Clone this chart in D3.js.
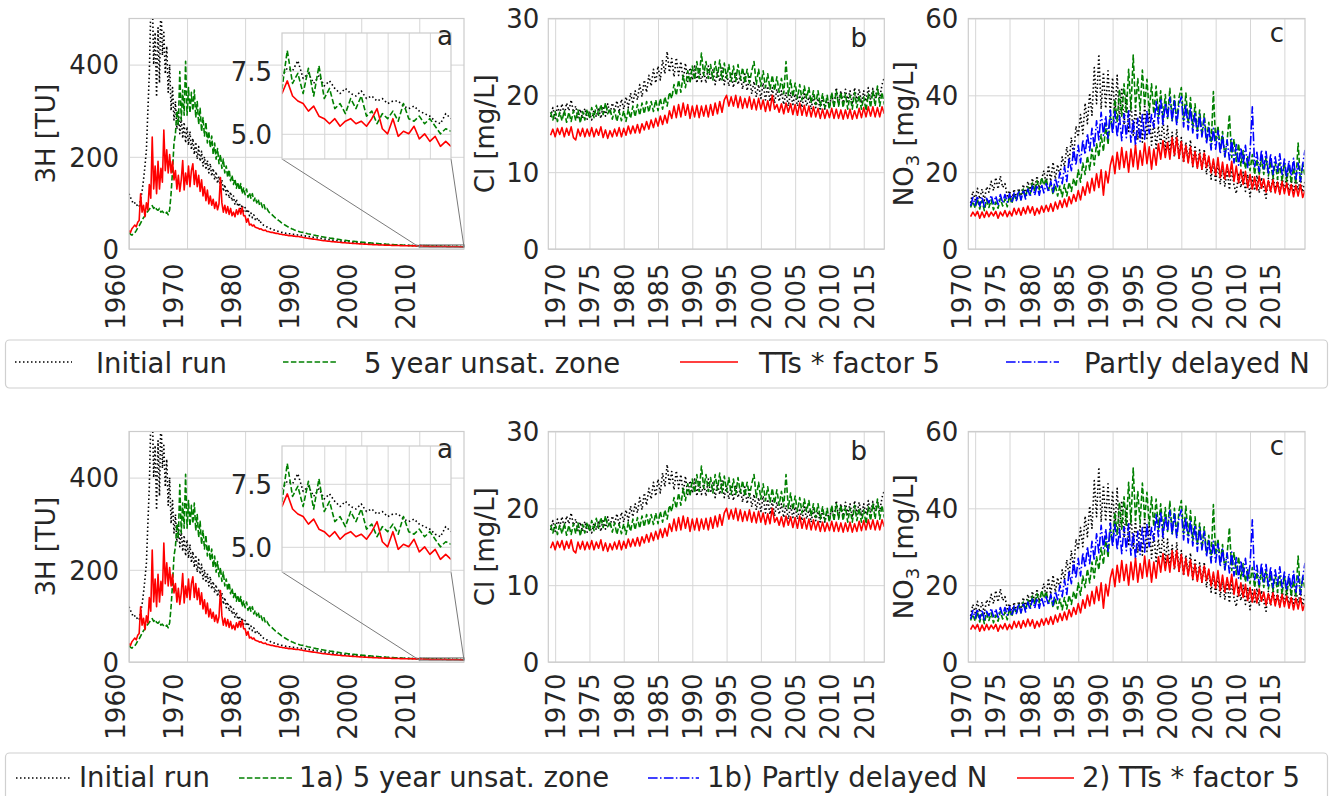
<!DOCTYPE html>
<meta charset="utf-8">
<head>
  <title>Tritium, chloride and nitrate scenarios</title>
</head>

<style>
body {
  margin: 0;
  background: white;
}
text {
  font-family: "DejaVu Sans", sans-serif;
  fill: #262626;
}
</style>

<body>
<script src="https://cdnjs.cloudflare.com/ajax/libs/d3/7.8.5/d3.min.js"></script>
<script>
// ---- data ----
// tritium (TU), quarterly from 1960.0
var tritiumStart = 1960, tritiumStep = 0.25
var tritiumInitial = [
  120, 112, 105, 98,
  100, 94, 96, 92,
  108, 125, 150, 180,
  215, 300, 380, 520,
  560, 400, 470, 330,
  480, 360, 540, 420,
  470, 380, 440, 340,
  400, 300, 350, 280,
  320, 260, 300, 250,
  285, 240, 275, 230,
  265, 225, 255, 215,
  240, 205, 232, 195,
  222, 190, 212, 180,
  200, 172, 192, 165,
  185, 158, 175, 150,
  168, 142, 158, 135,
  150, 125, 140, 118,
  130, 110, 124, 104,
  115, 96, 108, 92,
  100, 86, 96, 82,
  90, 78, 86, 72,
  78, 68, 74, 64,
  68, 60, 64, 56,
  53, 51, 49, 48,
  46, 45, 43, 42,
  41, 40, 39, 38,
  37, 36, 36, 35,
  34, 34, 33, 33,
  32, 32, 31, 31,
  30.5, 30, 30, 29.5,
  29, 28.5, 28, 27.5,
  27, 26.5, 26, 25.5,
  25, 24.5, 24, 23.5,
  23, 22.5, 22, 21.5,
  21, 20.5, 20, 19.6,
  19.2, 18.8, 18.4, 18,
  17.7, 17.4, 17.1, 16.8,
  16.5, 16.2, 15.9, 15.6,
  15.3, 15, 14.8, 14.5,
  14.3, 14, 13.8, 13.5,
  13.3, 13, 12.8, 12.5,
  12.3, 12, 11.8, 11.6,
  11.4, 11.2, 11, 10.8,
  10.6, 10.4, 10.2, 10,
  9.8, 9.7, 9.5, 9.3,
  9.2, 9, 8.9, 8.8,
  8.7, 8.6, 8.5, 8.4,
  8.3, 8.2, 8.1, 8,
  7.9, 7.8, 7.8, 7.7,
  7.6, 7.5, 7.5, 7.4,
  7.3, 7.6, 7.5, 7.9,
  7.2, 7.4, 7.0, 7.3,
  6.9, 7.1, 6.8, 6.6,
  6.8, 6.6, 6.5, 6.7,
  6.4, 6.5, 6.3, 6.4,
  6.2, 6.3, 6.3, 6.1,
  6.0, 6.1, 5.9, 5.8,
  5.7, 5.5, 5.4, 5.8,
  5.6
]
var tritiumUnsat = [
  36, 32, 30, 33,
  35, 40, 46, 50,
  56, 62, 68, 72,
  78, 82, 86, 90,
  94, 88, 92, 86,
  84, 88, 80, 82,
  78, 76, 80, 74,
  85, 120, 170, 230,
  250, 300, 270, 385,
  280, 345, 290, 407,
  290, 350, 295, 340,
  300, 345, 285, 320,
  270, 305, 255, 285,
  245, 275, 230, 255,
  220, 245, 205, 230,
  195, 218, 185, 205,
  175, 195, 165, 180,
  155, 172, 148, 160,
  140, 152, 132, 145,
  128, 142, 120, 132,
  118, 130, 112, 122,
  110, 120, 104, 112,
  100, 108, 95, 100,
  90, 96, 85, 88,
  82, 78, 76, 73,
  70, 67, 65, 62,
  60, 57, 55, 53,
  51, 49, 47, 46,
  44, 43, 41, 40,
  39, 38, 37, 36.5,
  36, 35, 34, 33,
  32.5, 32, 31, 30.5,
  30, 29, 28.5, 28,
  27, 26.5, 26, 25.5,
  25, 24.5, 24, 23.5,
  23, 22.5, 22, 21.5,
  21, 20.5, 20, 19.6,
  19.2, 18.8, 18.4, 18,
  17.6, 17.2, 16.9, 16.6,
  16.3, 16, 15.7, 15.4,
  15.1, 14.8, 14.5, 14.2,
  13.9, 13.6, 13.3, 13,
  12.8, 12.5, 12.2, 12,
  11.7, 11.5, 11.2, 11,
  10.8, 10.5, 10.3, 10.1,
  9.9, 9.7, 9.5, 9.3,
  9.1, 8.9, 8.8, 8.6,
  8.4, 8.3, 8.1, 8,
  7.8, 7.7, 7.6, 7.4,
  7.3, 7.2, 7.1, 7.0,
  6.8, 8.3, 7.0, 7.4,
  6.6, 7.6, 6.5, 7.7,
  6.4, 6.8, 6.0, 6.2,
  5.8, 6.4, 6.0, 6.5,
  5.7, 5.9, 5.4, 5.8,
  5.6, 5.9, 5.5, 6.2,
  5.6, 5.5, 5.7, 5.4,
  5.6, 5.3, 5.0, 5.2,
  5.1
]
var tritiumTT = [
  40, 36, 44, 48,
  52, 48, 58, 62,
  120, 80, 95, 70,
  100, 85, 140, 110,
  243, 130, 180, 120,
  190, 130, 175, 145,
  258, 170, 215, 165,
  205, 165, 190, 150,
  170, 130, 160, 125,
  150, 192, 128, 165,
  140, 180, 135, 170,
  185, 140, 170, 135,
  160, 125, 150, 115,
  135, 105, 128, 98,
  115, 95, 108, 88,
  102, 85, 98, 155,
  100, 80, 95, 78,
  92, 75, 88, 72,
  80, 70, 85, 75,
  88, 76, 90, 72,
  72, 58, 66, 52,
  54, 50, 52, 47,
  46, 45, 43, 44,
  41, 40, 41, 38,
  38, 37, 36, 36,
  35, 34, 34, 33,
  32, 32, 31, 31,
  30, 30, 29, 29,
  29, 28, 28, 27,
  27, 27, 26, 26,
  25, 24.5, 24, 23.5,
  23, 22.5, 22, 21.5,
  21, 20.5, 20, 19.5,
  19, 18.6, 18.2, 17.8,
  17.4, 17, 16.7, 16.4,
  16, 15.7, 15.4, 15.1,
  14.8, 14.5, 14.2, 13.9,
  13.6, 13.4, 13.1, 12.9,
  12.6, 12.4, 12.2, 12,
  11.8, 11.6, 11.4, 11.2,
  11, 10.8, 10.6, 10.4,
  10.2, 10, 9.9, 9.7,
  9.5, 9.4, 9.2, 9.1,
  8.9, 8.8, 8.7, 8.6,
  8.4, 8.3, 8.2, 8.1,
  8, 7.9, 7.8, 7.7,
  7.6, 7.5, 7.5, 7.4,
  7.3, 7.2, 7.2, 7.1,
  7.0, 7.0, 6.9, 6.9,
  6.8, 6.8, 6.7, 6.7,
  6.6, 7.1, 6.5, 6.3,
  6.2, 5.9, 6.1, 5.7,
  5.6, 5.4, 5.6, 5.3,
  5.5, 5.6, 5.4, 5.5,
  5.3, 5.6, 6.0, 5.2,
  5.0, 5.6, 4.9, 5.1,
  5.0, 5.3, 4.8, 5.0,
  4.7, 4.9, 4.5, 4.7,
  4.5
]

// chloride and nitrate (mg/L), every 4 months from 1969 1/3
var concStart = 1969 + 1 / 3, concStep = 1 / 3
var chlorideInitial = [
  17.2, 18.4,
  17.0, 18.6, 17.6,
  18.9, 17.4, 19.0,
  18.0, 19.4, 17.8,
  18.6, 17.1, 18.2,
  17.0, 18.3, 16.9,
  17.8, 16.8, 18.1,
  17.2, 18.4, 17.0,
  18.6, 17.3, 18.9,
  17.6, 19.0, 17.9,
  19.3, 17.8, 19.5,
  18.2, 19.8, 18.4,
  20.3, 18.9, 20.6,
  19.4, 21.4, 19.8,
  22.0, 20.4, 22.6,
  21.2, 23.4, 21.6,
  23.8, 22.0, 24.6,
  22.8, 25.7, 23.0,
  24.8, 22.4, 24.9,
  22.6, 24.4, 22.0,
  24.2, 21.8, 23.6,
  22.0, 23.8, 21.6,
  23.6, 21.8, 23.2,
  21.6, 23.8, 22.0,
  23.4, 21.4, 23.2,
  21.8, 23.6, 21.4,
  23.0, 21.2, 22.8,
  21.0, 23.0, 21.4,
  22.6, 20.8, 22.8,
  20.6, 22.4, 20.2,
  21.8, 19.8, 21.4,
  19.6, 21.6, 19.4,
  21.2, 19.2, 21.0,
  19.0, 20.8, 19.2,
  20.6, 18.8, 20.4,
  18.6, 20.4, 18.8,
  20.2, 18.6, 20.0,
  18.4, 20.2, 18.6,
  19.8, 18.2, 19.9,
  18.4, 19.6, 18.0,
  19.8, 18.2, 19.6,
  18.4, 20.2, 18.6,
  21.0, 18.8, 20.6,
  19.0, 20.8, 19.2,
  20.6, 18.8, 21.0,
  19.2, 20.8, 19.0,
  20.6, 19.2, 21.0,
  19.4, 20.9, 19.6,
  21.0, 19.6, 21.4,
  22.3
]
var chlorideUnsat = [
  17.8, 16.8,
  17.9, 16.6, 17.8,
  16.7, 18.0, 16.5,
  17.8, 16.6, 18.0,
  16.7, 18.1, 16.4,
  17.9, 16.8, 18.2,
  17.0, 18.4, 17.1,
  18.7, 17.4, 18.8,
  17.5, 19.0, 17.6,
  18.3, 16.9, 18.1,
  16.6, 17.9, 16.7,
  18.0, 16.6, 18.2,
  17.0, 18.6, 17.2,
  18.8, 17.4, 19.0,
  17.6, 19.2, 17.8,
  19.2, 17.9, 19.4,
  18.0, 19.6, 18.2,
  19.8, 18.6, 20.4,
  19.6, 21.4, 20.0,
  22.0, 20.4, 22.6,
  21.0, 23.2, 21.6,
  23.8, 22.0, 24.4,
  22.2, 25.5, 22.6,
  24.4, 22.2, 24.0,
  22.0, 24.4, 22.4,
  24.6, 22.0, 24.2,
  22.2, 24.0, 21.8,
  23.8, 21.8, 24.0,
  22.0, 23.6, 21.6,
  23.4, 21.6, 23.2,
  24.4, 21.4, 23.4,
  21.2, 23.2, 21.0,
  22.8, 20.8, 22.6,
  20.6, 22.4, 20.4,
  22.2, 20.2, 24.4,
  20.0, 22.0, 19.8,
  21.6, 19.6, 21.4,
  19.4, 21.2, 19.6,
  21.0, 19.0, 20.6,
  18.8, 20.6, 18.6,
  20.2, 18.4, 20.0,
  18.2, 20.4, 18.4,
  20.6, 18.6, 20.4,
  18.4, 20.2, 18.2,
  20.0, 18.2, 20.4,
  18.4, 20.0, 18.2,
  19.8, 18.0, 20.2,
  18.4, 20.6, 18.6,
  21.2, 18.6, 20.4,
  18.8
]
var chlorideTT = [
  14.8, 15.6,
  14.6, 15.7, 14.9,
  15.8, 14.6, 15.7,
  14.8, 15.9, 14.5,
  14.2, 15.6, 14.7,
  15.7, 14.6, 15.6,
  14.7, 15.8, 14.6,
  15.6, 14.8, 15.9,
  14.5, 15.5, 14.4,
  15.4, 14.6, 15.6,
  14.7, 15.8, 14.6,
  15.7, 14.8, 16.0,
  15.0, 16.0, 15.1,
  16.2, 15.1, 16.3,
  15.5, 16.6, 15.6,
  16.8, 15.8, 17.0,
  16.0, 17.3, 16.2,
  17.4, 16.4, 18.0,
  17.0, 18.6, 17.1,
  18.8, 17.2, 19.0,
  17.4, 18.8, 17.0,
  18.6, 17.2, 18.7,
  17.1, 18.6, 17.3,
  18.7, 17.2, 18.8,
  17.4, 19.0, 17.6,
  19.2, 17.8, 19.4,
  20.0, 18.6, 19.8,
  18.6, 20.0, 18.4,
  19.8, 18.3, 19.6,
  18.4, 19.8, 18.2,
  19.5, 18.1, 19.6,
  18.2, 19.4, 17.9,
  19.3, 18.0, 20.0,
  18.2, 18.8, 17.8,
  18.9, 17.6, 19.0,
  17.8, 18.9, 17.5,
  18.8, 17.4, 19.0,
  17.4, 18.7, 17.3,
  18.6, 17.2, 18.5,
  17.2, 18.3, 17.0,
  18.2, 17.0, 18.1,
  17.1, 18.3, 17.0,
  18.2, 17.0, 18.1,
  16.9, 18.1, 17.0,
  18.2, 16.9, 18.0,
  17.0, 18.3, 17.1,
  18.4, 17.2, 18.5,
  17.3, 18.5, 17.2,
  18.4, 17.2, 18.5,
  17.6
]
var nitrateInitial = [
  12.0, 15.0,
  12.8, 15.8, 13.0,
  15.6, 12.6, 16.2,
  14.8, 17.6, 15.2,
  18.6, 15.6, 19.0,
  16.0, 17.0, 13.8,
  15.2, 12.8, 15.6,
  13.2, 15.8, 13.8,
  16.8, 14.2, 17.6,
  15.4, 18.4, 15.6,
  19.0, 15.8, 18.2,
  20.4, 16.8, 21.8,
  17.6, 22.6, 18.2,
  22.0, 19.0, 24.0,
  21.4, 26.6, 22.4,
  29.0, 24.0, 32.0,
  29.2, 35.0, 30.0,
  38.0, 32.6, 40.6,
  34.8, 47.2, 37.8,
  50.7, 36.4, 46.0,
  36.6, 46.4, 35.4,
  44.6, 34.8, 45.2,
  33.4, 42.0, 32.4,
  40.4, 30.6, 38.4,
  29.6, 37.0, 28.4,
  35.8, 27.8, 37.6,
  28.8, 36.2, 27.0,
  33.4, 26.2, 32.0,
  27.0, 34.0, 25.8,
  32.0, 25.0, 30.4,
  24.0, 31.2, 23.4,
  29.0, 22.4, 27.8,
  22.6, 28.4, 21.4,
  27.0, 21.4, 25.8,
  20.6, 26.0, 19.4,
  24.0, 18.2, 22.8,
  17.4, 22.4, 16.8,
  21.4, 16.2, 20.6,
  15.4, 21.0, 16.6,
  14.4, 19.8, 16.0,
  20.0, 15.0, 19.4,
  13.6, 18.8, 15.2,
  19.2, 14.6, 18.6,
  15.6, 13.2, 18.4,
  14.6, 19.2, 15.2,
  18.2, 14.4, 18.8,
  15.0, 19.2, 14.6,
  18.0, 14.8, 18.8,
  15.4, 18.6, 14.8,
  17.6
]
var nitrateUnsat = [
  10.8, 12.4,
  10.6, 13.0, 10.4,
  12.6, 10.0, 12.8,
  10.8, 12.8, 10.2,
  12.2, 10.6, 13.2,
  11.2, 13.0, 11.0,
  13.8, 11.8, 14.2,
  12.6, 15.0, 12.8,
  15.6, 13.4, 16.2,
  14.2, 17.2, 15.0,
  17.8, 15.4, 18.6,
  16.6, 18.4, 15.4,
  17.2, 14.2, 16.6,
  13.8, 16.4, 13.6,
  16.8, 13.8, 17.4,
  15.0, 18.4, 16.2,
  20.6, 17.4, 22.4,
  19.4, 24.2, 20.6,
  26.0, 21.8, 27.4,
  24.0, 29.8, 25.4,
  32.6, 27.2, 34.4,
  31.2, 39.0, 33.2,
  41.6, 34.6, 43.0,
  35.4, 46.8, 36.2,
  50.5, 36.8, 44.4,
  36.0, 46.6, 37.2,
  44.2, 35.6, 43.0,
  35.2, 42.4, 34.6,
  41.2, 33.8, 40.2,
  34.0, 41.8, 33.4,
  40.0, 32.8, 39.4,
  42.0, 33.4, 40.6,
  32.6, 39.4, 31.6,
  37.8, 30.4, 36.2,
  29.6, 35.2, 28.2,
  33.0, 26.6, 41.0,
  27.8, 32.0, 25.8,
  30.6, 24.0, 28.2,
  35.0, 23.8, 28.6,
  22.8, 27.4, 21.6,
  25.6, 20.8, 24.0,
  20.4, 24.6, 19.4,
  23.4, 19.2, 23.8,
  19.4, 24.0, 19.0,
  22.8, 18.4, 22.6,
  18.2, 22.4, 17.6,
  22.4, 17.4, 21.8,
  17.2, 21.2, 17.0,
  27.6, 17.6, 22.2,
  19.0
]
var nitrateDelayed = [
  11.2, 13.4,
  11.4, 13.8, 11.2,
  13.6, 11.0, 13.2,
  12.0, 14.0, 11.8,
  13.8, 11.6, 14.2,
  12.0, 14.2, 12.2,
  14.4, 12.0, 14.6,
  12.6, 15.2, 12.8,
  15.4, 13.0, 15.6,
  13.6, 16.4, 14.0,
  16.6, 14.0, 16.8,
  14.6, 17.0, 14.8,
  17.6, 14.8, 18.4,
  16.2, 20.0, 17.0,
  21.4, 17.6, 23.6,
  20.4, 26.2, 21.8,
  27.0, 22.4, 28.4,
  24.6, 30.0, 25.6,
  31.4, 26.4, 33.4,
  28.4, 35.6, 29.6,
  34.6, 28.8, 36.2,
  30.0, 35.8, 29.2,
  34.6, 28.2, 35.2,
  29.0, 36.0, 27.8,
  33.8, 26.8, 34.0,
  28.0, 35.0, 28.6,
  36.0, 30.0, 35.0,
  31.6, 38.4, 32.6,
  39.0, 32.4, 38.0,
  34.0, 39.4, 33.2,
  38.6, 32.2, 37.6,
  39.6, 31.8, 37.6,
  31.0, 36.8, 30.2,
  35.6, 28.8, 35.0,
  29.2, 34.0, 27.4,
  31.6, 25.8, 31.4,
  26.0, 30.8, 24.8,
  29.4, 24.0, 28.4,
  23.2, 28.6, 22.4,
  27.2, 21.8, 26.4,
  22.0, 27.0, 21.2,
  25.2, 37.0, 21.4,
  25.2, 20.2, 25.8,
  20.6, 25.4, 19.8,
  24.8, 19.4, 24.0,
  20.2, 24.8, 19.4,
  23.4, 18.6, 23.0,
  19.0, 23.6, 18.2,
  22.4, 17.6, 22.0,
  25.8
]
var nitrateTT = [
  8.4, 9.6,
  8.6, 9.8, 8.0,
  9.6, 8.2, 9.8,
  8.4, 9.6, 8.6,
  9.8, 8.0, 9.6,
  8.6, 10.0, 8.4,
  9.8, 8.6, 10.6,
  9.0, 10.6, 8.8,
  10.8, 9.2, 11.2,
  9.4, 11.0, 8.8,
  10.6, 9.2, 11.2,
  9.6, 11.4, 9.8,
  11.8, 9.8, 12.2,
  10.4, 12.6, 10.8,
  13.0, 11.0, 13.6,
  11.8, 14.2, 12.4,
  15.2, 12.8, 16.2,
  14.0, 17.4, 14.6,
  18.4, 15.2, 19.6,
  16.0, 20.6, 14.0,
  20.2, 17.2, 21.8,
  24.2, 19.6, 25.2,
  20.8, 26.4, 21.2,
  25.4, 20.0, 26.0,
  21.4, 27.0, 20.8,
  25.6, 21.8, 27.6,
  22.2, 26.6, 20.8,
  26.0, 21.8, 27.4,
  23.4, 28.2, 23.8,
  27.8, 23.4, 29.0,
  24.4, 29.0, 23.6,
  28.0, 22.8, 27.0,
  22.4, 26.6, 21.6,
  25.4, 21.0, 24.8,
  20.8, 25.0, 21.2,
  24.2, 19.8, 23.4,
  19.2, 23.8, 18.6,
  22.6, 18.2, 22.0,
  18.8, 22.8, 17.6,
  21.6, 17.2, 20.6,
  16.8, 20.2, 16.0,
  19.4, 15.6, 18.8,
  15.4, 19.0, 15.8,
  18.2, 14.8, 17.8,
  15.0, 18.0, 14.6,
  17.4, 14.2, 17.6,
  14.4, 17.2, 14.0,
  16.8, 13.6, 16.6,
  13.8, 16.8, 13.4,
  15.2
]

// axis ticks and legend labels
var tritiumYearTicks = [1960, 1970, 1980, 1990, 2000, 2010]
var concYearTicks = [1970, 1975, 1980, 1985, 1990, 1995, 2000, 2005, 2010, 2015]
var insetYearGrid = [2011, 2012, 2013, 2014, 2015, 2016, 2017]
var tritiumTicks = [0, 200, 400]
var insetTicks = [5.0, 7.5]
var chlorideTicks = [0, 10, 20, 30]
var nitrateTicks = [0, 20, 40, 60]
var topLegendLabels = ["Initial run", "5 year unsat. zone", "TTs * factor 5", "Partly delayed N"]
var bottomLegendLabels = ["Initial run", "1a) 5 year unsat. zone", "1b) Partly delayed N", "2) TTs * factor 5"]

// ---- styles ----
var styles = {
  initial: {color: "#000000", dash: "1.5,2.5"},
  unsat: {color: "#008000", dash: "5.5,2.4"},
  delayed: {color: "#0000ff", dash: "9.6,2.4,1.5,2.4"},
  tt: {color: "#ff0000", dash: null}
}
var gridColor = "#d6d6d6"
var frameColor = "#cccccc"
var lineWidth = 1.6
var fontSize = 26

var svg = d3.select("body").append("svg")
  .attr("width", 1333)
  .attr("height", 796)
var defs = svg.append("defs")
var clipCount = 0

function toPoints(values, start, step) {
  return values.map(function(v, i) { return [start + i * step, v] })
}

function addClip(box) {
  var id = "clip" + (clipCount++)
  defs.append("clipPath").attr("id", id)
    .append("rect")
    .attr("x", box.left).attr("y", box.top)
    .attr("width", box.right - box.left).attr("height", box.bottom - box.top)
  return "url(#" + id + ")"
}

// grid, ticks, lines and frame for one axes box
function drawAxes(g, box, xDomain, yDomain, xTicks, yTicks, yFormat, lines, opts) {
  var x = d3.scaleLinear().domain(xDomain).range([box.left, box.right])
  var y = d3.scaleLinear().domain(yDomain).range([box.bottom, box.top])

  if (opts.background) {
    g.append("rect")
      .attr("x", box.left).attr("y", box.top)
      .attr("width", box.right - box.left).attr("height", box.bottom - box.top)
      .attr("fill", "white")
  }

  var gx = g.append("g")
    .attr("transform", "translate(0," + box.bottom + ")")
    .call(d3.axisBottom(x).tickValues(xTicks).tickSize(-(box.bottom - box.top)).tickFormat(d3.format("d")))
  gx.select(".domain").remove()
  gx.selectAll("line").attr("stroke", gridColor).attr("stroke-width", 1)
  if (opts.xLabels) {
    gx.selectAll("text")
      .attr("font-size", fontSize)
      .attr("font-family", "DejaVu Sans")
      .attr("fill", "#262626")
      .attr("text-anchor", "end")
      .attr("x", -opts.xLabelGap)
      .attr("y", opts.xLabelShift)
      .attr("dy", "0.36em")
      .attr("transform", "rotate(-90)")
  } else {
    gx.selectAll("text").remove()
  }

  var gy = g.append("g")
    .attr("transform", "translate(" + box.left + ",0)")
    .call(d3.axisLeft(y).tickValues(yTicks).tickSize(-(box.right - box.left)).tickPadding(opts.yPad).tickFormat(yFormat))
  gy.select(".domain").remove()
  gy.selectAll("line").attr("stroke", gridColor).attr("stroke-width", 1)
  gy.selectAll("text")
    .attr("font-size", fontSize)
    .attr("font-family", "DejaVu Sans")
    .attr("fill", "#262626")
    .attr("dy", "0.36em")

  var line = d3.line()
    .x(function(d) { return x(d[0]) })
    .y(function(d) { return y(d[1]) })
  var lg = g.append("g").attr("clip-path", addClip(box))
  lines.forEach(function(s) {
    lg.append("path")
      .datum(s.points)
      .attr("d", line)
      .attr("fill", "none")
      .attr("stroke", s.style.color)
      .attr("stroke-width", lineWidth)
      .attr("stroke-linejoin", "round")
      .attr("stroke-dasharray", s.style.dash)
  })

  g.append("rect")
    .attr("x", box.left).attr("y", box.top)
    .attr("width", box.right - box.left).attr("height", box.bottom - box.top)
    .attr("fill", "none")
    .attr("stroke", frameColor)
    .attr("stroke-width", 1.2)

  return {x: x, y: y}
}

function yLabel(g, x, yc, parts) {
  var t = g.append("text")
    .attr("transform", "translate(" + x + "," + yc + ") rotate(-90)")
    .attr("text-anchor", "middle")
    .attr("dy", "0.36em")
    .attr("font-size", fontSize)
  parts.forEach(function(p) {
    var s = t.append("tspan").text(p.text)
    if (p.sub) s.attr("font-size", 18).attr("dy", 6)
    if (p.after) s.attr("dy", -6)
  })
}

function letter(g, x, y, txt) {
  g.append("text")
    .attr("x", x).attr("y", y)
    .attr("text-anchor", "end")
    .attr("font-size", fontSize)
    .text(txt)
}

var tritiumLines = [
  {style: styles.initial, points: toPoints(tritiumInitial, tritiumStart, tritiumStep)},
  {style: styles.unsat, points: toPoints(tritiumUnsat, tritiumStart, tritiumStep)},
  {style: styles.tt, points: toPoints(tritiumTT, tritiumStart, tritiumStep)}
]
var chlorideLines = [
  {style: styles.initial, points: toPoints(chlorideInitial, concStart, concStep)},
  {style: styles.unsat, points: toPoints(chlorideUnsat, concStart, concStep)},
  {style: styles.tt, points: toPoints(chlorideTT, concStart, concStep)}
]
var nitrateLines = [
  {style: styles.initial, points: toPoints(nitrateInitial, concStart, concStep)},
  {style: styles.unsat, points: toPoints(nitrateUnsat, concStart, concStep)},
  {style: styles.delayed, points: toPoints(nitrateDelayed, concStart, concStep)},
  {style: styles.tt, points: toPoints(nitrateTT, concStart, concStep)}
]

var rows = [
  {dy: 0, xLabelGap: 14.5,
   legend: {top: 340, height: 48, lineY: 362, textY: 372.5,
            labels: topLegendLabels,
            styles: [styles.initial, styles.unsat, styles.tt, styles.delayed],
            handles: [[15, 72], [283, 338], [680, 738], [1006, 1059]],
            textX: [96, 364, 759, 1084]}},
  {dy: 413, xLabelGap: 11.5,
   legend: {top: 753, height: 52, lineY: 778, textY: 787,
            labels: bottomLegendLabels,
            styles: [styles.initial, styles.unsat, styles.delayed, styles.tt],
            handles: [[16, 70], [239, 293], [648, 699], [1017, 1074]],
            textX: [79, 299, 707, 1082]}}
]

rows.forEach(function(row) {
  var g = svg.append("g")
  var top = 18.5 + row.dy, bottom = 249 + row.dy

  // panel a: tritium with inset
  var boxA = {left: 129, right: 464, top: top, bottom: bottom}
  var sa = drawAxes(g, boxA, [1960, 2017.7], [0, 500], tritiumYearTicks, tritiumTicks, d3.format("d"), tritiumLines,
    {xLabels: true, xLabelGap: row.xLabelGap, xLabelShift: -14, yPad: 10})
  yLabel(g, 46, (top + bottom) / 2, [{text: "3H [TU]"}])

  var insetBox = {left: 282, right: 451, top: 33 + row.dy, bottom: 159 + row.dy}
  var insetX = [2010, 2018], insetY = [4, 9]
  // zoom marker and connectors
  var rx0 = sa.x(insetX[0]), rx1 = Math.min(sa.x(insetX[1]), boxA.right)
  var ry0 = sa.y(insetY[1]), ry1 = sa.y(insetY[0])
  g.append("rect")
    .attr("x", rx0).attr("y", ry0).attr("width", rx1 - rx0).attr("height", ry1 - ry0)
    .attr("fill", "none").attr("stroke", "#7a7a7a").attr("stroke-width", 1)
  g.append("line")
    .attr("x1", insetBox.left).attr("y1", insetBox.bottom).attr("x2", rx0).attr("y2", ry1)
    .attr("stroke", "#7a7a7a").attr("stroke-width", 1)
  g.append("line")
    .attr("x1", insetBox.right).attr("y1", insetBox.bottom).attr("x2", rx1).attr("y2", ry1)
    .attr("stroke", "#7a7a7a").attr("stroke-width", 1)

  drawAxes(g, insetBox, insetX, insetY, insetYearGrid, insetTicks, d3.format(".1f"), tritiumLines,
    {background: true, xLabels: false, yPad: 10})
  letter(g, 453, 45 + row.dy, "a")

  // panel b: chloride
  var boxB = {left: 548.3, right: 884.3, top: top, bottom: bottom}
  drawAxes(g, boxB, [1969, 2018], [0, 30], concYearTicks, chlorideTicks, d3.format("d"), chlorideLines,
    {xLabels: true, xLabelGap: row.xLabelGap, xLabelShift: 0, yPad: 9})
  yLabel(g, 485, (top + bottom) / 2, [{text: "Cl [mg/L]"}])
  letter(g, 867, 46.7 + row.dy, "b")

  // panel c: nitrate
  var boxC = {left: 968.3, right: 1305, top: top, bottom: bottom}
  drawAxes(g, boxC, [1969, 2018], [0, 60], concYearTicks, nitrateTicks, d3.format("d"), nitrateLines,
    {xLabels: true, xLabelGap: row.xLabelGap, xLabelShift: -14, yPad: 10})
  yLabel(g, 904, (top + bottom) / 2, [{text: "NO"}, {text: "3", sub: true}, {text: " [mg/L]", after: true}])
  letter(g, 1284, 42 + row.dy, "c")

  // legend
  var lgd = row.legend
  svg.append("rect")
    .attr("x", 5.5).attr("y", lgd.top)
    .attr("width", 1322).attr("height", lgd.height)
    .attr("rx", 4)
    .attr("fill", "white")
    .attr("stroke", "#d0d0d0")
    .attr("stroke-width", 1.2)
  lgd.labels.forEach(function(label, i) {
    svg.append("line")
      .attr("x1", lgd.handles[i][0]).attr("x2", lgd.handles[i][1])
      .attr("y1", lgd.lineY).attr("y2", lgd.lineY)
      .attr("stroke", lgd.styles[i].color)
      .attr("stroke-width", lineWidth)
      .attr("stroke-dasharray", lgd.styles[i].dash)
    svg.append("text")
      .attr("x", lgd.textX[i]).attr("y", lgd.textY)
      .attr("font-size", 27.5)
      .text(label)
  })
})
</script>
</body>
